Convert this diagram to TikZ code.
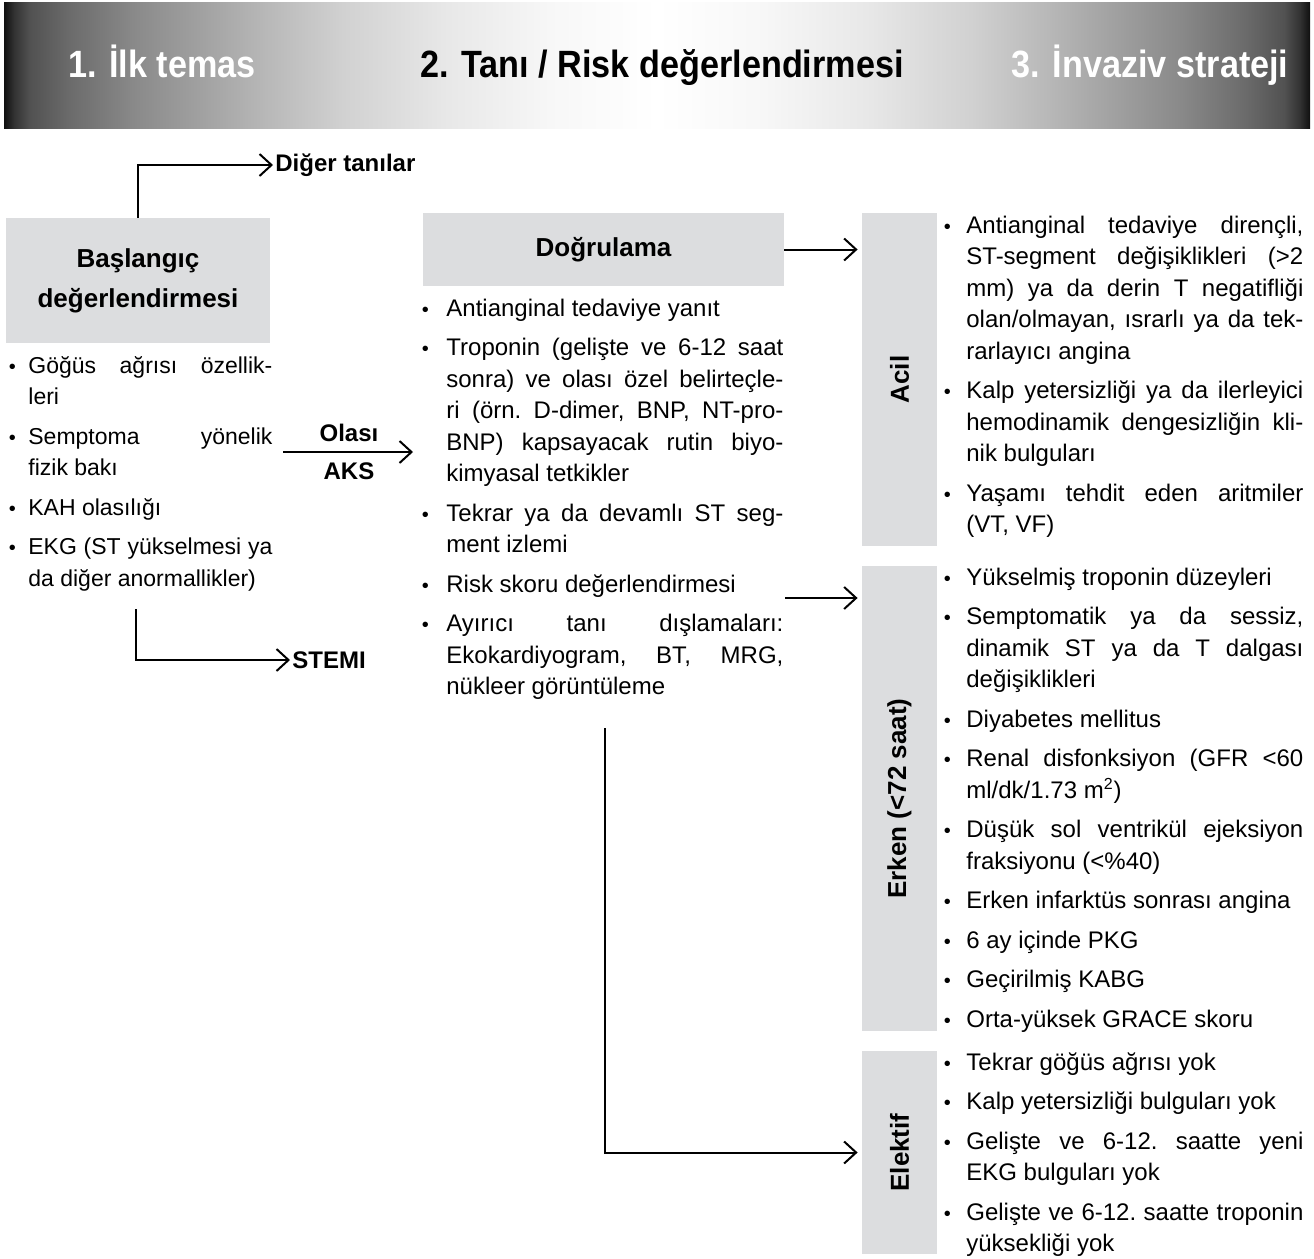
\documentclass[tikz,border=0pt]{standalone}
\usepackage{fontspec}
\setmainfont{Liberation Sans}
\newfontfamily\hdrfont[FakeStretch=0.9]{Liberation Sans}
\usetikzlibrary{arrows.meta}
\definecolor{boxgray}{RGB}{220,221,223}
\definecolor{shA}{gray}{0.06}
\definecolor{shB}{gray}{0.20}
\definecolor{shC}{gray}{0.32}
\definecolor{shD}{gray}{0.42}
\definecolor{shE}{gray}{0.54}
\definecolor{shF}{gray}{0.63}
\definecolor{shG}{gray}{0.72}
\definecolor{shH}{gray}{0.82}
\definecolor{shI}{gray}{0.91}
\definecolor{shJ}{gray}{0.97}
\definecolor{shW}{gray}{1.0}
\pgfdeclarehorizontalshading{hdrshade}{100bp}{color(0bp)=(shA); color(25bp)=(shA); color(25.4bp)=(shB); color(26bp)=(shC); color(27.5bp)=(shD); color(30bp)=(shE); color(32.5bp)=(shF); color(35bp)=(shG); color(38bp)=(shH); color(42bp)=(shI); color(46bp)=(shJ); color(50bp)=(shW); color(54bp)=(shJ); color(58bp)=(shI); color(62bp)=(shH); color(65bp)=(shG); color(67.5bp)=(shF); color(70bp)=(shE); color(72.5bp)=(shD); color(74bp)=(shC); color(74.6bp)=(shB); color(75bp)=(shA); color(100bp)=(shA)}
\newlength\bulgap
\newcommand\bul{{\fontsize{10pt}{10pt}\selectfont •}}
\newcommand\itmfirst{\noindent\strut\llap{\bul\hspace{\bulgap}}}
\newcommand\itm{\par\vspace{4pt}\noindent\strut\llap{\bul\hspace{\bulgap}}}
\newcommand\colsetup[2]{\fontsize{#1}{15.75pt}\selectfont\frenchspacing\setlength\bulgap{#2}\hyphenpenalty=10000 \exhyphenpenalty=10000 \tolerance=10000 \emergencystretch=0pt\relax}
\tikzset{
  graybox/.style={fill=boxgray, draw=none, inner sep=0pt},
  boxtitle/.style={font=\fontsize{13pt}{20pt}\selectfont\bfseries},
  conn/.style={line width=1pt, -{Straight Barb[length=6pt,width=11pt]}},
  lbl/.style={font=\fontsize{12pt}{14pt}\selectfont\bfseries, inner sep=1pt},
  listcol/.style={anchor=north west, inner sep=0pt, align=justify},
  hdr/.style={font={\hdrfont\bfseries\fontsize{19pt}{22pt}\selectfont}, inner sep=0pt, anchor=base},
}
\begin{document}
\begin{tikzpicture}[x=0.5pt, y=-0.5pt]
\useasboundingbox (0,0) rectangle (1314,1259);

% header band
\node[shading=hdrshade, minimum width=653pt, minimum height=63pt, inner sep=0pt, draw=none] (band) at (657,65) {};
\node[hdr, text=white] (h1) at (162,77) {1. İlk temas};
\node[hdr] (h2) at (662,77) {2. Tanı / Risk değerlendirmesi};
\node[hdr, text=white] (h3) at (1150,77) {3. İnvaziv strateji};

% gray boxes
\node[graybox, boxtitle, minimum width=132pt, minimum height=62.5pt, align=center] (bas) at (138,280.5) {Başlangıç\\değerlendirmesi};
\node[graybox, boxtitle, minimum width=180.5pt, minimum height=36.5pt] (dog) at (603.5,249.5) {Doğrulama};

\node[graybox, boxtitle, minimum width=37.5pt, minimum height=166.5pt] (acil) at (899.5,379.5) {\rotatebox{90}{Acil}};
\node[graybox, boxtitle, minimum width=37.5pt, minimum height=232.5pt] (erken) at (899.5,798.5) {\rotatebox{90}{Erken (<72 saat)}};
\node[graybox, boxtitle, minimum width=37.5pt, minimum height=101.5pt] (elektif) at (899.5,1152.5) {\rotatebox{90}{Elektif}};

% lists
\node[listcol, text width=122pt] (ll) at (28,351) {\colsetup{11.5pt}{6.25pt}%
\itmfirst Göğüs ağrısı özellik-\linebreak leri
\itm Semptoma yönelik\linebreak fizik bakı
\itm KAH olasılığı
\itm EKG (ST yükselmesi ya\linebreak da diğer anormallikler)\par};

\node[listcol, text width=168.5pt] (ml) at (446,294) {\colsetup{12pt}{8.75pt}%
\itmfirst Antianginal tedaviye yanıt
\itm Troponin (gelişte ve 6-12 saat\linebreak sonra) ve olası özel belirteçle-\linebreak ri (örn. D-dimer, BNP, NT-pro-\linebreak BNP) kapsayacak rutin biyo-\linebreak kimyasal tetkikler
\itm Tekrar ya da devamlı ST seg-\linebreak ment izlemi
\itm Risk skoru değerlendirmesi
\itm Ayırıcı tanı dışlamaları:\linebreak Ekokardiyogram, BT, MRG,\linebreak nükleer görüntüleme\par};

\node[listcol, text width=168.5pt] (al) at (966,211) {\colsetup{12pt}{7.75pt}%
\itmfirst Antianginal tedaviye dirençli,\linebreak ST-segment değişiklikleri (>2\linebreak mm) ya da derin T negatifliği\linebreak olan/olmayan, ısrarlı ya da tek-\linebreak rarlayıcı angina
\itm Kalp yetersizliği ya da ilerleyici\linebreak hemodinamik dengesizliğin kli-\linebreak nik bulguları
\itm Yaşamı tehdit eden aritmiler\linebreak (VT, VF)\par};

\node[listcol, text width=168.5pt] (el) at (966,563) {\colsetup{12pt}{7.75pt}%
\itmfirst Yükselmiş troponin düzeyleri
\itm Semptomatik ya da sessiz,\linebreak dinamik ST ya da T dalgası\linebreak değişiklikleri
\itm Diyabetes mellitus
\itm Renal disfonksiyon (GFR <60\linebreak ml/dk/1.73 m\textsuperscript{2})
\itm Düşük sol ventrikül ejeksiyon\linebreak fraksiyonu (<\%40)
\itm Erken infarktüs sonrası angina
\itm 6 ay içinde PKG
\itm Geçirilmiş KABG
\itm Orta-yüksek GRACE skoru\par};

\node[listcol, text width=168.5pt] (kl) at (966,1048) {\colsetup{12pt}{7.75pt}%
\itmfirst Tekrar göğüs ağrısı yok
\itm Kalp yetersizliği bulguları yok
\itm Gelişte ve 6-12. saatte yeni\linebreak EKG bulguları yok
\itm Gelişte ve 6-12. saatte troponin\linebreak yüksekliği yok\par};

% labels
\node[lbl, anchor=west] (diger) at (273,165) {Diğer tanılar};
\node[lbl, anchor=west] (stemi) at (290,660) {STEMI};
\node[lbl] (olasi) at (349,433) {Olası};
\node[lbl] (aks) at (349,471) {AKS};

% connectors
\coordinate (aksA) at (283,452);
\coordinate (aksB) at (413,452);
\coordinate (s0) at (136,609);
\coordinate (e0) at (785,598);
\coordinate (v0) at (605,728);

\draw[conn] (bas.north) |- (diger.west);
\draw[conn] (s0) |- (stemi.west);
\draw[conn] (aksA) -- (aksB);
\draw[conn, shorten >=2pt] (dog.east) -- (dog.east -| acil.west);
\draw[conn, shorten >=2pt] (e0) -- (e0 -| erken.west);
\draw[conn, shorten >=2pt] (v0) |- (elektif.west);
\end{tikzpicture}
\end{document}
